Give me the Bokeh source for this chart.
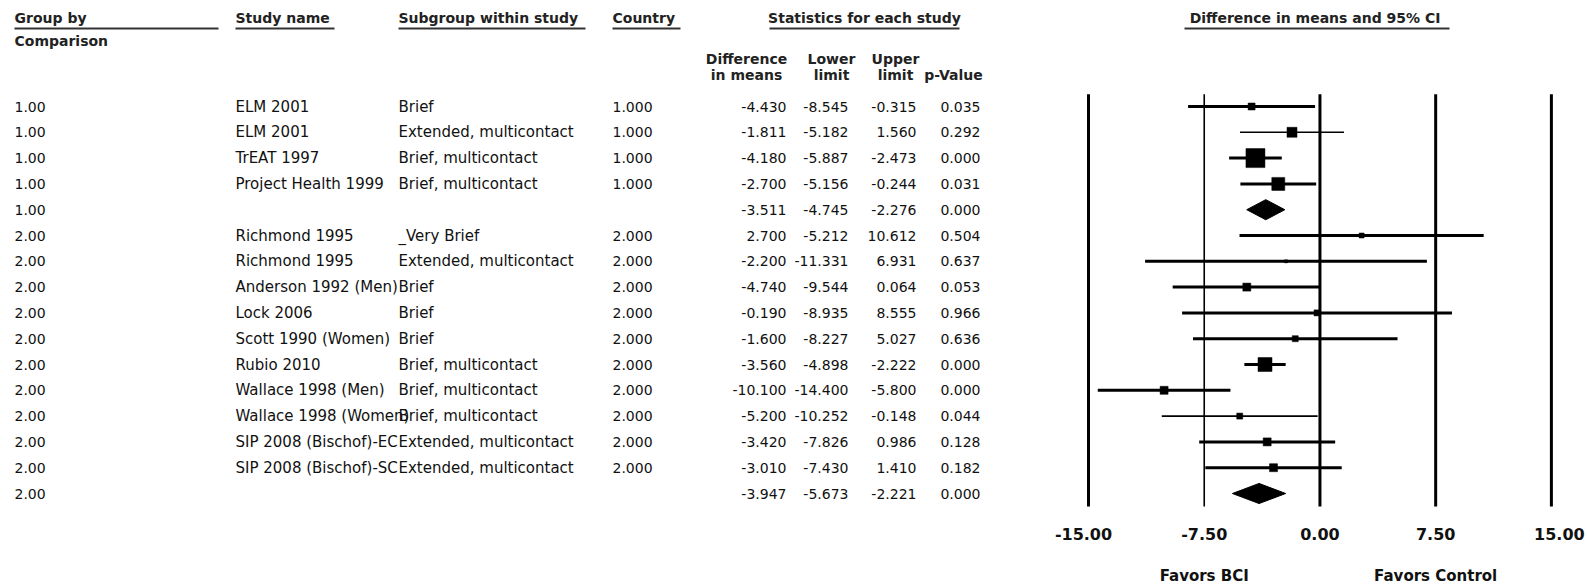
from bokeh.plotting import figure
from bokeh.models import Range1d, ColumnDataSource
from bokeh.embed import file_html
from bokeh.resources import INLINE
from bokeh.core.properties import value

# ---------------- data ----------------
groups = ["1.00"] * 5 + ["2.00"] * 11
studies = ["ELM 2001", "ELM 2001", "TrEAT 1997", "Project Health 1999", "",
           "Richmond 1995", "Richmond 1995", "Anderson 1992 (Men)", "Lock 2006",
           "Scott 1990 (Women)", "Rubio 2010", "Wallace 1998 (Men)",
           "Wallace 1998 (Women)", "SIP 2008 (Bischof)-EC", "SIP 2008 (Bischof)-SC", ""]
subgroups = ["Brief", "Extended, multicontact", "Brief, multicontact", "Brief, multicontact", "",
             "_Very Brief", "Extended, multicontact", "Brief", "Brief", "Brief",
             "Brief, multicontact", "Brief, multicontact", "Brief, multicontact",
             "Extended, multicontact", "Extended, multicontact", ""]
countries = ["1.000"] * 4 + [""] + ["2.000"] * 10 + [""]
diff = [-4.430, -1.811, -4.180, -2.700, -3.511, 2.700, -2.200, -4.740, -0.190,
        -1.600, -3.560, -10.100, -5.200, -3.420, -3.010, -3.947]
lower = [-8.545, -5.182, -5.887, -5.156, -4.745, -5.212, -11.331, -9.544, -8.935,
         -8.227, -4.898, -14.400, -10.252, -7.826, -7.430, -5.673]
upper = [-0.315, 1.560, -2.473, -0.244, -2.276, 10.612, 6.931, 0.064, 8.555,
         5.027, -2.222, -5.800, -0.148, 0.986, 1.410, -2.221]
pvals = [0.035, 0.292, 0.000, 0.031, 0.000, 0.504, 0.637, 0.053, 0.966,
         0.636, 0.000, 0.000, 0.044, 0.128, 0.182, 0.000]
summary_rows = [4, 15]
ticks = [-15.0, -7.5, 0.0, 7.5, 15.0]
tick_labels = ["-15.00", "-7.50", "0.00", "7.50", "15.00"]

# ---------------- styles ----------------
marker_px = [7, 10, 19, 13, 0, 5, 3, 8, 6, 6, 14, 8, 6, 8, 8, 0]
ci_width = [3, 1.6, 3, 3, 0, 3, 3, 3, 3, 3, 3, 3, 1.6, 3, 3, 0]
FONT = value("DejaVu Sans")
W, H = 1587, 584
ROW0, ROWH = 106.0, 25.8
PX_UNIT, X_M15 = 15.43, 1088.0

p = figure(width=W, height=H, output_backend="svg", toolbar_location=None,
           x_range=Range1d(0, W), y_range=Range1d(H, 0),
           x_axis_type=None, y_axis_type=None, min_border=0)
p.outline_line_color = None
p.background_fill_color = "white"
p.border_fill_color = "white"
p.grid.visible = False

p.extra_x_ranges = {"eff": Range1d(-15 - X_M15 / PX_UNIT,
                                   15 + (W - X_M15 - 30 * PX_UNIT) / PX_UNIT)}
p.extra_y_ranges = {"row": Range1d((H - ROW0) / ROWH, -ROW0 / ROWH)}

n = len(diff)
rows = list(range(n))

# ---------------- table text ----------------
def col_text(x, texts, align, size="15px"):
    src = ColumnDataSource(dict(x=[x] * len(texts), y=rows, t=texts))
    p.text(x="x", y="y", text="t", source=src, y_range_name="row",
           text_font=FONT, text_font_size=size, text_align=align,
           text_baseline="middle", text_color="#111111")

col_text(14, groups, "left", "14px")
col_text(235, studies, "left")
col_text(398, subgroups, "left")
col_text(612, countries, "left", "14px")
col_text(786, [f"{v:.3f}" for v in diff], "right", "14px")
col_text(848, [f"{v:.3f}" for v in lower], "right", "14px")
col_text(916, [f"{v:.3f}" for v in upper], "right", "14px")
col_text(980, [f"{v:.3f}" for v in pvals], "right", "14px")

# ---------------- headers ----------------
hdr = ColumnDataSource(dict(
    x=[14, 14, 235, 398, 612],
    y=[17, 40, 17, 17, 17],
    t=["Group by", "Comparison", "Study name", "Subgroup within study", "Country"]))
p.text(x="x", y="y", text="t", source=hdr, text_font=FONT, text_font_size="14px",
       text_font_style="bold", text_align="left", text_baseline="middle", text_color="#222222")

hdr_c = ColumnDataSource(dict(
    x=[864, 746, 746, 831, 831, 895, 895, 953, 1317],
    y=[17, 58, 74, 58, 74, 58, 74, 74, 17],
    t=["Statistics for each study", "Difference", "in means", "Lower", "limit",
       "Upper", "limit", "p-Value", "Difference in means and 95%  CI"]))
p.text(x="x", y="y", text="t", source=hdr_c, text_font=FONT, text_font_size="14px",
       text_font_style="bold", text_align="center", text_baseline="middle", text_color="#222222")

p.segment(x0=[14, 235, 398, 612, 769, 1184], x1=[218, 334, 585, 680, 959, 1449],
          y0=[28] * 6, y1=[28] * 6, line_color="#333333", line_width=2)

# ---------------- forest plot ----------------
p.segment(x0=ticks, x1=ticks, y0=[-0.47] * 5, y1=[15.5] * 5,
          line_width=[3, 1.6, 3, 3, 3], line_color="black",
          x_range_name="eff", y_range_name="row")

study_idx = [i for i in rows if i not in summary_rows]
ci = ColumnDataSource(dict(
    lo=[lower[i] for i in study_idx], up=[upper[i] for i in study_idx],
    d=[diff[i] for i in study_idx], r=study_idx,
    lw=[ci_width[i] for i in study_idx], sz=[marker_px[i] for i in study_idx]))
p.segment(x0="lo", x1="up", y0="r", y1="r", line_width="lw", line_color="black",
          source=ci, x_range_name="eff", y_range_name="row")
p.scatter(x="d", y="r", size="sz", marker="square", fill_color="black",
          line_color="black", line_width=0.5, source=ci,
          x_range_name="eff", y_range_name="row")

dh = 0.39
p.patches(xs=[[lower[i], diff[i], upper[i], diff[i]] for i in summary_rows],
          ys=[[i, i - dh, i, i + dh] for i in summary_rows],
          fill_color="black", line_color="black",
          x_range_name="eff", y_range_name="row")

tk = ColumnDataSource(dict(x=ticks, y=[533] * 5, t=tick_labels, off=[-5, 0, 0, 0, 8]))
p.text(x="x", y="y", text="t", x_offset="off", source=tk, x_range_name="eff",
       text_font=FONT, text_font_size="16px", text_font_style="bold",
       text_align="center", text_baseline="middle", text_color="#111111")

fv = ColumnDataSource(dict(x=[-7.5, 7.5], y=[575, 575], t=["Favors BCI", "Favors Control"]))
p.text(x="x", y="y", text="t", source=fv, x_range_name="eff",
       text_font=FONT, text_font_size="15px", text_font_style="bold",
       text_align="center", text_baseline="middle", text_color="#111111")

open("out.html", "w").write(file_html(p, INLINE))
